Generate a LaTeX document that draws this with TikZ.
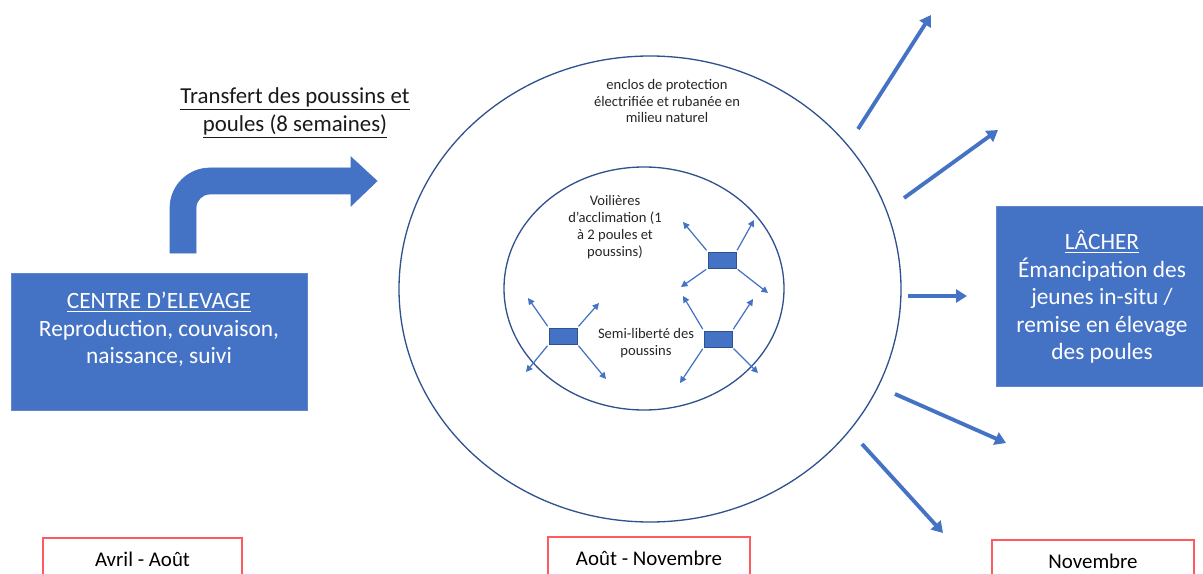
\documentclass[tikz,border=0pt]{standalone}
\usepackage{fontspec}
\setmainfont{Carlito}
\usetikzlibrary{arrows.meta}

\definecolor{bleu}{HTML}{4472C4}
\definecolor{bleufonce}{HTML}{2F528F}
\definecolor{rouge}{HTML}{FF5A5F}

\tikzset{
  bloc/.style={draw=bleu!85!white, fill=bleu, line width=0.5pt, inner sep=0pt},
  bloctexte/.style={text=white, align=center, font=\fontsize{13.3}{15.6}\selectfont},
  titre/.style={text=black!90, align=center, font=\fontsize{13}{15.9}\selectfont},
  periode/.style={draw=rouge, line width=0.8pt, fill=white, inner sep=0pt,
    minimum height=0.84cm, font=\fontsize{11.9}{14}\selectfont},
  legende/.style={text=black!85, align=center, font=\fontsize{8.3}{9.6}\selectfont},
  cage/.style={draw=bleufonce, fill=bleu, line width=0.4pt, inner sep=0pt,
    minimum width=0.56cm, minimum height=0.32cm},
  pousse/.style={bleu, line width=0.7pt, shorten <=1pt,
    -{Triangle[length=0.13cm,width=0.13cm]}},
  sortie/.style={bleu, line width=2.2pt, -{Triangle[length=0.22cm,width=0.26cm]}},
}

\begin{document}
\begin{tikzpicture}[x=0.02cm, y=-0.02cm]
\useasboundingbox (0,0) rectangle (1203,574);

%%%% enclos et voliere
\draw[bleufonce, line width=0.75pt] (650,289) ellipse [x radius=251, y radius=233];
\draw[bleufonce, line width=0.75pt] (644,288.5) ellipse [x radius=140, y radius=121.5];

\node[legende] (enclos-texte) at (667,101) {enclos de protection\\électrifiée et rubanée en\\milieu naturel};
\node[legende] (voliere-texte) at (615,227) {Voilières\\d’acclimation (1\\à 2 poules et\\poussins)};
\node[legende] (semi-texte) at (646,343) {Semi-liberté des\\poussins};

%%%% voilieres
\node[cage] (cage1) at (722,260) {};
\node[cage] (cage2) at (563,336) {};
\node[cage] (cage3) at (718,339) {};
\foreach \c/\a/\dx/\dy in {cage1/north west/-39/-38, cage1/north east/32/-40,
    cage1/south west/-41/27, cage1/south east/46/33,
    cage2/north west/-35/-38, cage2/north east/36/-33,
    cage2/south west/-37/36, cage2/south east/43/43,
    cage3/north west/-35/-43, cage3/north east/35/-40,
    cage3/south west/-38/44, cage3/south east/40/34}
  \draw[pousse] (\c.\a) -- ([shift={(\dx,\dy)}]\c.center);

%%%% centre d'elevage
\node[bloc, minimum width=5.92cm, minimum height=2.74cm] (elevage) at (159,341.5) {};
\node[bloctexte] (elevage-texte) at (159,329.5) {\underline{CENTRE D’ELEVAGE}\\Reproduction, couvaison,\\naissance, suivi};

%%%% fleche coudee
\filldraw[bleu, draw=bleu] (170,253) -- (170,208) arc[start angle=180, end angle=270, radius=40]
  -- (351,168) -- (351,157) -- (377,181) -- (351,206) -- (351,194) -- (210,194)
  arc[start angle=270, end angle=180, radius=14] -- (196,253) -- cycle;
\node[titre] (transfert) at (295,113) {\underline{Transfert des poussins et}\\\underline{poules (8 semaines)}};

%%%% lacher
\node[bloc, minimum width=4.24cm, minimum height=3.6cm] (lacher) at (1102,296) {};
\node[bloctexte] (lacher-texte) at (1102,297) {\underline{LÂCHER}\\Émancipation des\\jeunes in-situ /\\remise en élevage\\des poules};

%%%% fleches de sortie
\foreach \n/\sx/\sy/\tx/\ty in {1/858/129/931/15, 2/904/198/998/130, 3/908/296/967/296,
    4/895/394/1006/443, 5/862/444/943/533} {
  \coordinate (d\n) at (\sx,\sy);
  \coordinate (f\n) at (\tx,\ty);
  \draw[sortie] (d\n) -- (f\n);
}

%%%% periodes
\node[periode, minimum width=3.98cm] (avril) at (142.5,559) {Avril - Août};
\node[periode, minimum width=4.04cm] (aout) at (649,558) {Août - Novembre};
\node[periode, minimum width=4.04cm] (novembre) at (1093,561) {Novembre};

\end{tikzpicture}
\end{document}
